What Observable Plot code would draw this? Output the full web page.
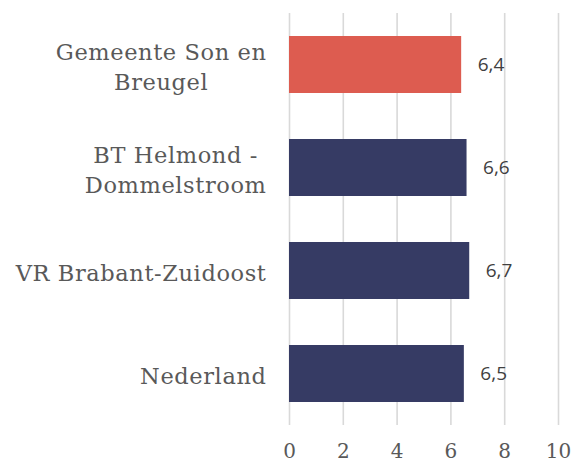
<!DOCTYPE html>
<html>
<head>
<meta charset="utf-8">
<script src="https://cdn.jsdelivr.net/npm/d3@7"></script>
<script src="https://cdn.jsdelivr.net/npm/@observablehq/plot@0.6"></script>
<style>
  html, body { margin: 0; padding: 0; background: #fff; }
</style>
</head>
<body>
<div id="chart"></div>
<script>
const categories = ["Gemeente Son en Breugel", "BT Helmond - Dommelstroom", "VR Brabant-Zuidoost", "Nederland"];
const categoryLabels = ["Gemeente Son en\nBreugel", "BT Helmond -\nDommelstroom", "VR Brabant-Zuidoost", "Nederland"];
const values = [6.4, 6.6, 6.7, 6.5];
const barColors = ["#DD5C50", "#363B64", "#363B64", "#363B64"];
const xTicks = [0, 2, 4, 6, 8, 10];

const data = categories.map((name, i) => ({ name, value: values[i], color: barColors[i] }));

const chart = Plot.plot({
  width: 571,
  height: 465,
  marginLeft: 289,
  marginRight: 13,
  marginTop: 13,
  marginBottom: 40,
  style: { fontFamily: "DejaVu Serif", background: "#fff" },
  x: { domain: [0, 10], ticks: xTicks, label: null },
  y: { domain: categories, paddingInner: 0.447, paddingOuter: 0.2235, label: null },
  color: { type: "identity" },
  marks: [
    Plot.gridX(xTicks, { stroke: "#d9d9d9", strokeOpacity: 1, strokeWidth: 1.6 }),
    Plot.barX(data, { x: "value", y: "name", fill: "color" }),
    Plot.text(data, {
      x: "value", y: "name",
      text: d => d.value.toFixed(1).replace(".", ","),
      dx: 16, textAnchor: "start",
      fontFamily: "Open Sans", fontSize: 19, fill: "#404040",
      ariaLabel: "value-labels"
    }),
    Plot.axisY({
      tickSize: 0, tickPadding: 23, fontSize: 22.5, fill: "#595959",
      fontFamily: "DejaVu Serif", lineHeight: 1.33,
      tickFormat: d => categoryLabels[categories.indexOf(d)]
    }),
    Plot.axisX({
      ticks: xTicks, tickSize: 0, tickPadding: 18, fontSize: 20, fill: "#595959",
      fontFamily: "DejaVu Serif"
    })
  ]
});

document.getElementById("chart").appendChild(chart);

// Slightly wider letter spacing to match the reference's wide serif
chart.querySelectorAll('g[aria-label="y-axis tick label"]').forEach(g => g.setAttribute("letter-spacing", "0.6"));

// Center multi-line category labels within their block (right-aligned block)
chart.querySelectorAll('g[aria-label="y-axis tick label"] text').forEach(t => {
  const spans = t.querySelectorAll("tspan");
  if (spans.length > 1) {
    let maxW = 0;
    spans.forEach(s => { maxW = Math.max(maxW, s.getComputedTextLength()); });
    spans.forEach(s => { s.setAttribute("text-anchor", "middle"); s.setAttribute("x", -maxW / 2); });
  }
});

// White background behind value labels (breaks gridlines as in the reference)
chart.querySelectorAll('g[aria-label="value-labels"] text').forEach(t => {
  const b = t.getBBox();
  const r = document.createElementNS("http://www.w3.org/2000/svg", "rect");
  r.setAttribute("x", b.x - 5);
  r.setAttribute("y", b.y - 6);
  r.setAttribute("width", b.width + 10);
  r.setAttribute("height", b.height + 12);
  r.setAttribute("fill", "#fff");
  const tr = t.getAttribute("transform");
  if (tr) r.setAttribute("transform", tr);
  t.parentNode.insertBefore(r, t);
});
</script>
</body>
</html>
